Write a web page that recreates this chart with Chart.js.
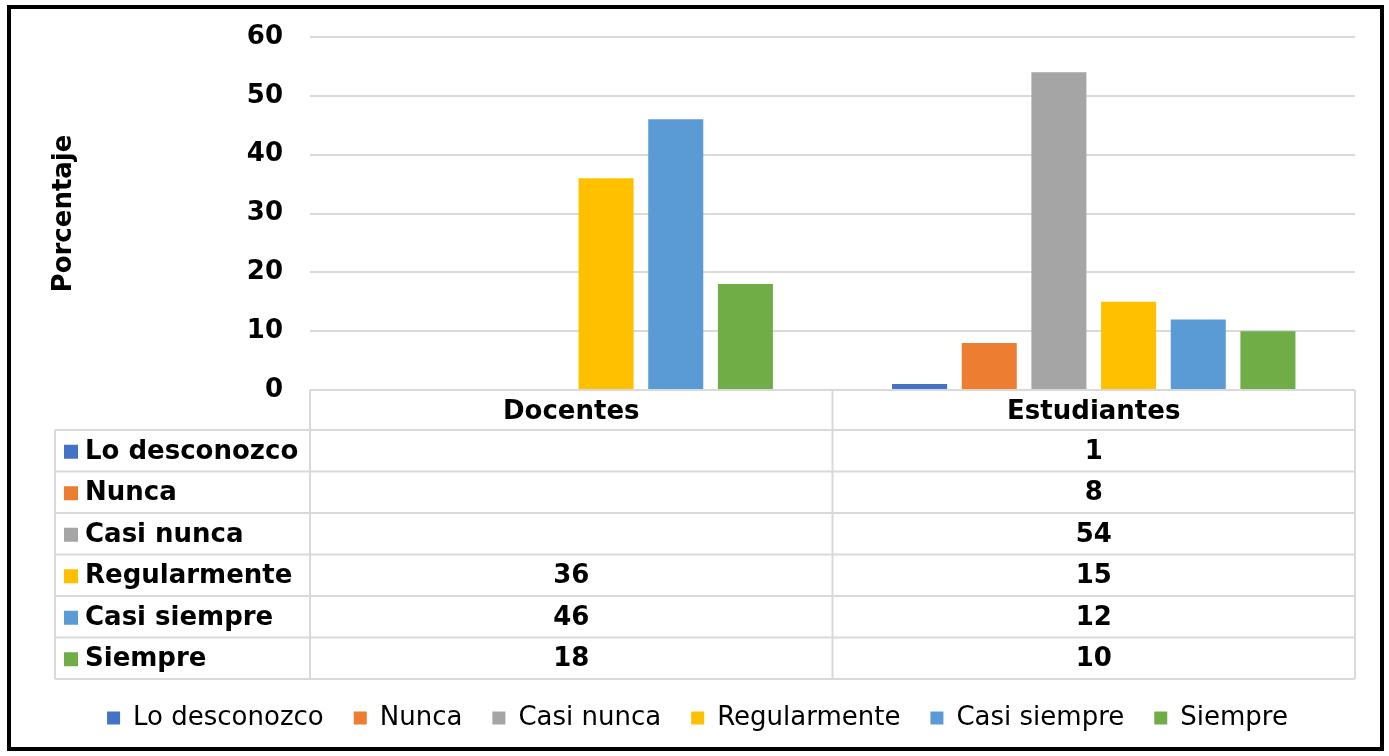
<!DOCTYPE html>
<html lang="es">
<head>
<meta charset="utf-8">
<title>Porcentaje por grupo</title>
<script src="https://cdn.jsdelivr.net/npm/chart.js@4/dist/chart.umd.min.js"></script>
<style>
  html, body { margin: 0; padding: 0; background: #fff; }
  #wrap { width: 1389px; height: 756px; position: relative; }
</style>
</head>
<body>
<div id="wrap"><canvas id="grafico" width="1389" height="756"></canvas></div>
<script>
// Datos
const categorias = ["Docentes", "Estudiantes"];
const series = ["Lo desconozco", "Nunca", "Casi nunca", "Regularmente", "Casi siempre", "Siempre"];
const docentes = [null, null, null, 36, 46, 18];
const estudiantes = [1, 8, 54, 15, 12, 10];
const colores = ["#4472c4", "#ed7d31", "#a5a5a5", "#ffc000", "#5b9bd5", "#70ad47"];
const ticksY = [0, 10, 20, 30, 40, 50, 60];

const FUENTE = "'DejaVu Sans', Verdana, sans-serif";
const GRIS = "#d9d9d9";

// Tabla de datos debajo del eje X, dibujada con las posiciones de la escala
const tablaDatos = {
  id: "tablaDatos",
  afterDraw(chart) {
    const ctx = chart.ctx;
    const x = chart.scales.x;
    const area = chart.chartArea;
    const top = area.bottom;
    const altoCab = 40;
    const altoFila = 41.5;
    const izq = 55;
    const n = series.length;
    const fondo = top + altoCab + altoFila * n;

    // limites de columnas
    const cortes = [area.left];
    for (let i = 0; i < categorias.length - 1; i++) {
      cortes.push((x.getPixelForValue(i) + x.getPixelForValue(i + 1)) / 2);
    }
    cortes.push(area.right);

    ctx.save();
    ctx.strokeStyle = GRIS;
    ctx.lineWidth = 2;
    ctx.beginPath();
    // lineas horizontales
    ctx.moveTo(area.left, top);
    ctx.lineTo(area.right, top);
    for (let r = 0; r <= n; r++) {
      const y = top + altoCab + altoFila * r;
      ctx.moveTo(izq, y);
      ctx.lineTo(area.right, y);
    }
    // lineas verticales
    cortes.forEach((c) => {
      ctx.moveTo(c, top);
      ctx.lineTo(c, fondo);
    });
    ctx.moveTo(izq, top + altoCab);
    ctx.lineTo(izq, fondo);
    ctx.stroke();

    ctx.fillStyle = "#000";
    ctx.font = "bold 26px " + FUENTE;
    ctx.textBaseline = "middle";
    ctx.textAlign = "center";
    categorias.forEach((cat, i) => {
      ctx.fillText(cat, (cortes[i] + cortes[i + 1]) / 2, top + altoCab / 2 + 2);
    });

    chart.data.datasets.forEach((ds, r) => {
      const yc = top + altoCab + altoFila * r + altoFila / 2 + 1;
      ctx.fillStyle = ds.backgroundColor;
      ctx.fillRect(64, yc - 7, 14, 14);
      ctx.fillStyle = "#000";
      ctx.textAlign = "left";
      ctx.fillText(ds.label, 85, yc);
      ctx.textAlign = "center";
      ds.data.forEach((v, i) => {
        if (v !== null) ctx.fillText(String(v), (cortes[i] + cortes[i + 1]) / 2, yc);
      });
    });

    // marco exterior
    ctx.strokeStyle = "#000";
    ctx.lineWidth = 4;
    ctx.strokeRect(9, 7, 1373, 742);
    ctx.restore();
  },
};

function crearGrafico() {
  const datasets = series.map((nombre, i) => ({
    label: nombre,
    data: [docentes[i], estudiantes[i]],
    backgroundColor: colores[i],
    borderWidth: 0,
    categoryPercentage: 0.8,
    barPercentage: 0.79,
  }));

  new Chart(document.getElementById("grafico").getContext("2d"), {
    type: "bar",
    data: { labels: categorias, datasets },
    plugins: [tablaDatos],
    options: {
      responsive: false,
      animation: false,
      layout: { padding: { left: 40, right: 34, top: 37, bottom: 15 } },
      plugins: {
        tooltip: { enabled: false },
        legend: {
          position: "bottom",
          labels: {
            color: "#000",
            font: { family: FUENTE, size: 26 },
            boxWidth: 13,
            boxHeight: 13,
            padding: 30,
          },
        },
      },
      scales: {
        x: {
          ticks: { display: false },
          grid: { display: false },
          border: { display: false },
          afterFit: (scale) => { scale.height = 285; },
        },
        y: {
          min: 0,
          max: 60,
          afterBuildTicks: (scale) => { scale.ticks = ticksY.map((v) => ({ value: v })); },
          afterFit: (scale) => {
            scale.width = 270;
            scale.paddingTop = 0;
            scale.paddingBottom = 0;
          },
          border: { display: false },
          grid: { color: GRIS, lineWidth: 2, drawTicks: false },
          ticks: {
            color: "#000",
            padding: 27,
            font: { family: FUENTE, size: 26, weight: "bold" },
          },
          title: {
            display: true,
            text: "Porcentaje",
            color: "#000",
            padding: { top: 9, bottom: 0 },
            font: { family: FUENTE, size: 26, weight: "bold" },
          },
        },
      },
    },
  });
}

document.addEventListener("DOMContentLoaded", crearGrafico);
</script>
</body>
</html>
